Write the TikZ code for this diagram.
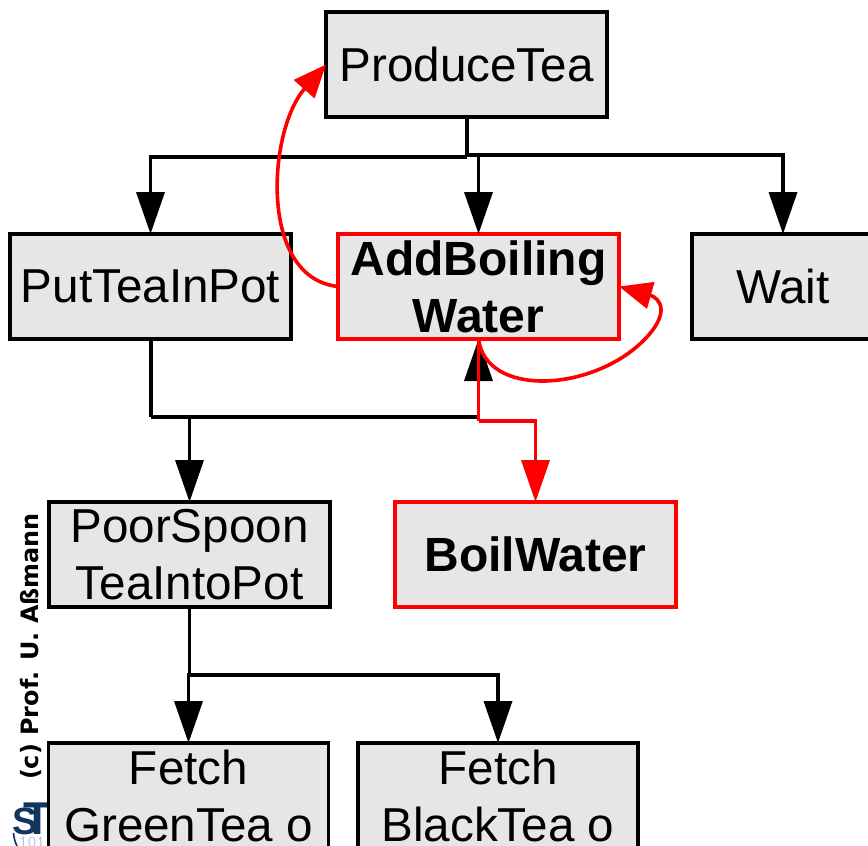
\documentclass[tikz,border=0pt]{standalone}
\usepackage{fontspec}
\setmainfont{Liberation Sans}
\newfontfamily\wmfont{DejaVu Sans}
\usetikzlibrary{arrows.meta}
\definecolor{boxfill}{HTML}{E6E6E6}
\definecolor{logoblue}{HTML}{12355F}
\definecolor{logolight}{HTML}{B9B5E6}
\tikzset{
  box/.style={draw=black,fill=boxfill,line width=3.2pt,minimum width=281pt,minimum height=105pt,inner sep=0pt,outer sep=0pt,align=center,font=\fontsize{47.6}{57}\selectfont},
  redbox/.style={box,draw=red,font=\fontsize{48}{57}\selectfont\bfseries},
  conn/.style={draw=black,line width=3.6pt},
  arr/.style={conn,-{Triangle[length=42pt,width=28pt]}},
  redconn/.style={draw=red,line width=3.6pt},
  redarr/.style={redconn,-{Triangle[length=42pt,width=28pt]}},
  curvearr/.style={redconn,-{Triangle[length=33pt,width=27pt]}},
}
\begin{document}
\begin{tikzpicture}[x=1pt,y=-1pt]
\useasboundingbox (0,0) rectangle (868,846);
\clip (0,0) rectangle (868,846);
% watermark
\node[rotate=90,inner sep=0pt,font=\wmfont\fontsize{23.9}{26}\selectfont\bfseries] (wm) at (31,646.5) {(c) Prof. U. Aßmann};
% logo
\node[inner sep=0pt,anchor=base,text=logoblue,font=\fontsize{38}{38}\selectfont\bfseries] (logoS) at (25,834) {S};
\node[inner sep=0pt,anchor=base,text=logoblue,font=\fontsize{46}{46}\selectfont\bfseries] (logoT) at (38,834) {T};
\node[inner sep=0pt,anchor=base,text=logolight,font=\ttfamily\fontsize{17}{17}\selectfont] (logonum) at (32,847) {101};
\draw[logoblue,line width=1.6pt] (13.5,833) .. controls (14,838) and (15,842) .. (17,846);
% boxes
\node[box] (produce) at (466.5,64.5) {ProduceTea};
\node[box] (put) at (150.5,286.5) {PutTeaInPot};
\node[redbox] (add) at (478.5,286.5) {AddBoiling\\Water};
\node[box,minimum width=182pt] (wait) at (783,286.5) {Wait};
\node[box] (poor) at (189.5,554.5) {PoorSpoon\\TeaIntoPot};
\node[redbox] (boil) at (535.5,554.5) {BoilWater};
\node[box,minimum width=280pt] (green) at (188.5,795.5) {Fetch\\GreenTea o};
\node[box,minimum width=280pt] (black) at (498,795.5) {Fetch\\BlackTea o};
% junctions
\coordinate (j1) at (466.5,155);
\coordinate (j1l) at (466.5,157);
\coordinate (j2) at (150.5,417);
\coordinate (j3) at (189.5,675);
\coordinate (j4) at (478.5,421);
% black connectors
\draw[conn,line width=4pt] (produce.south) -- (j1l);
\draw[arr] (j1l) -| (put.north);
\draw[arr] (j1) -| (add.north);
\draw[arr] (j1) -| (wait.north);
\draw[conn,line width=4pt] (put.south) -- (j2);
\draw[arr] (j2) -| (add.south);
\draw[arr] (j2) -| (poor.north);
\draw[conn] (poor.south) -- (j3);
\draw[arr] (j3) -| (green.north);
\draw[arr] (j3) -| (black.north);
% red connectors
\draw[redconn] (add.south) -- (j4);
\draw[redarr] (j4) -| (boil.north);
\draw[curvearr] (add.south) .. controls (486,397) and (590,392) .. (642,342) .. controls (672,313) and (660,298) .. (add.east);
\draw[curvearr] (add.west) .. controls (258,278) and (268,130) .. (produce.west);
\end{tikzpicture}
\end{document}
